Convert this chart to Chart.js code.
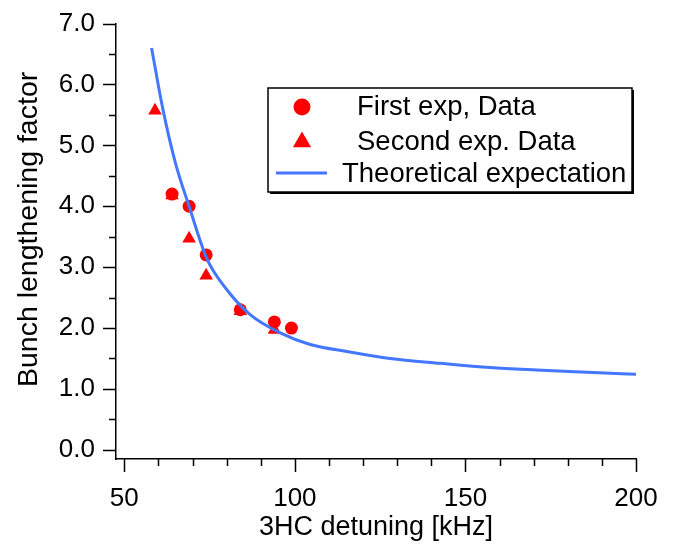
<!DOCTYPE html>
<html>
<head>
<meta charset="utf-8">
<script src="https://cdn.jsdelivr.net/npm/chart.js@4"></script>
<style>
  html, body { margin: 0; padding: 0; background: #fff; }
  #wrap { width: 684px; height: 548px; }
</style>
</head>
<body>
<div id="wrap"><canvas id="chart" width="684" height="548"></canvas></div>
<script>
// first experiment (circles)
const detuningFirst = [64, 69, 74, 84, 94, 99];
const factorFirst = [4.2, 4.0, 3.2, 2.3, 2.1, 2.0];

// second experiment (triangles)
const detuningSecond = [59, 64, 69, 74, 84, 94];
const factorSecond = [5.57, 4.18, 3.47, 2.86, 2.28, 1.97];

// theoretical curve
const theoryDetuning = [58.0, 61.3, 65.0, 69.0, 74.2, 80.2, 86.9, 95.7, 104.5, 115.7, 127.9, 142.6, 157.2, 170.9, 187.5, 200];
const theoryFactor = [6.60, 5.60, 4.71, 4.00, 3.14, 2.62, 2.22, 1.92, 1.73, 1.61, 1.50, 1.42, 1.35, 1.31, 1.27, 1.24];

// axis ticks
const yMajorTicks = [0, 1, 2, 3, 4, 5, 6, 7];
const yMinorTicks = [0.5, 1.5, 2.5, 3.5, 4.5, 5.5, 6.5];
const xMajorTicks = [50, 100, 150, 200];
const xMinorTicks = [60, 70, 80, 90, 110, 120, 130, 140, 160, 170, 180, 190];

const legendLabels = ['First exp, Data', 'Second exp. Data', 'Theoretical expectation'];

const RED = '#ff0000';
const BLUE = '#4477ff';
const FONT = '"Liberation Sans", Arial, Helvetica, sans-serif';

const toPoints = (xs, ys) => xs.map((x, i) => ({ x: x, y: ys[i] }));

// tick marks drawn outside the plot, major and minor
const tickMarks = {
    id: 'tickMarks',
    afterDraw(chart) {
        const ctx = chart.ctx;
        const xs = chart.scales.x;
        const ys = chart.scales.y;
        const axisX = chart.chartArea.left;
        const axisY = chart.chartArea.bottom;
        ctx.save();
        ctx.strokeStyle = '#000';
        ctx.lineWidth = 1.5;
        ctx.beginPath();
        yMajorTicks.forEach(v => {
            const p = Math.round(ys.getPixelForValue(v)) + 0.5;
            ctx.moveTo(axisX, p); ctx.lineTo(axisX - 13, p);
        });
        yMinorTicks.forEach(v => {
            const p = Math.round(ys.getPixelForValue(v)) + 0.5;
            ctx.moveTo(axisX, p); ctx.lineTo(axisX - 7, p);
        });
        xMajorTicks.forEach(v => {
            const p = Math.round(xs.getPixelForValue(v)) + 0.5;
            ctx.moveTo(p, axisY); ctx.lineTo(p, axisY + 13);
        });
        xMinorTicks.forEach(v => {
            const p = Math.round(xs.getPixelForValue(v)) + 0.5;
            ctx.moveTo(p, axisY); ctx.lineTo(p, axisY + 7);
        });
        ctx.stroke();
        ctx.restore();
    }
};

// boxed legend with drop shadow, upper right
const boxLegend = {
    id: 'boxLegend',
    afterDraw(chart) {
        const ctx = chart.ctx;
        const box = { x: 268, y: 88, w: 364, h: 104 };
        ctx.save();
        ctx.fillStyle = '#000';
        ctx.fillRect(box.x + 2, box.y + 2, box.w, box.h);
        ctx.fillStyle = '#fff';
        ctx.fillRect(box.x, box.y, box.w, box.h);
        ctx.strokeStyle = '#000';
        ctx.lineWidth = 1.5;
        ctx.strokeRect(box.x, box.y, box.w, box.h);

        ctx.fillStyle = RED;
        ctx.beginPath();
        ctx.arc(302, 107, 8.5, 0, Math.PI * 2);
        ctx.fill();

        const r = 10.5;
        ctx.beginPath();
        ctx.moveTo(302, 142 - r);
        ctx.lineTo(302 + r * 0.866, 142 + r / 2);
        ctx.lineTo(302 - r * 0.866, 142 + r / 2);
        ctx.closePath();
        ctx.fill();

        ctx.strokeStyle = BLUE;
        ctx.lineWidth = 3;
        ctx.beginPath();
        ctx.moveTo(276, 173);
        ctx.lineTo(327, 173);
        ctx.stroke();

        ctx.fillStyle = '#000';
        ctx.font = '27.5px ' + FONT;
        ctx.textBaseline = 'middle';
        ctx.fillText(legendLabels[0], 357, 107);
        ctx.fillText(legendLabels[1], 357, 142);
        ctx.fillText(legendLabels[2], 342, 174);
        ctx.restore();
    }
};

new Chart(document.getElementById('chart'), {
    type: 'scatter',
    data: {
        datasets: [
            {
                label: legendLabels[2],
                data: toPoints(theoryDetuning, theoryFactor),
                showLine: true,
                borderColor: BLUE,
                borderWidth: 3,
                pointRadius: 0,
                cubicInterpolationMode: 'monotone',
                order: 0
            },
            {
                label: legendLabels[0],
                data: toPoints(detuningFirst, factorFirst),
                pointStyle: 'circle',
                pointRadius: 6.5,
                backgroundColor: RED,
                borderColor: RED,
                borderWidth: 0,
                order: 1
            },
            {
                label: legendLabels[1],
                data: toPoints(detuningSecond, factorSecond),
                pointStyle: 'triangle',
                pointRadius: 7.8,
                backgroundColor: RED,
                borderColor: RED,
                borderWidth: 0,
                order: 2
            }
        ]
    },
    options: {
        responsive: false,
        animation: false,
        events: [],
        layout: { padding: { top: 19, right: 48, left: 0, bottom: 0 } },
        plugins: {
            legend: { display: false },
            tooltip: { enabled: false }
        },
        scales: {
            x: {
                type: 'linear',
                min: 47.57,
                max: 200,
                afterFit(scale) { scale.height = 89; },
                afterBuildTicks(scale) { scale.ticks = xMajorTicks.map(v => ({ value: v })); },
                grid: { display: true, drawOnChartArea: false, color: 'rgba(0,0,0,0)', drawTicks: true, tickLength: 13 },
                border: { display: true, color: '#000', width: 1.5 },
                ticks: {
                    color: '#000',
                    font: { family: FONT, size: 26 },
                    padding: 11,
                    maxRotation: 0,
                    autoSkip: false
                },
                title: {
                    display: true,
                    text: '3HC detuning [kHz]',
                    color: '#000',
                    font: { family: FONT, size: 27, lineHeight: 1.2 }
                }
            },
            y: {
                type: 'linear',
                min: -0.151,
                max: 7,
                afterFit(scale) { scale.width = 116; },
                afterBuildTicks(scale) { scale.ticks = yMajorTicks.map(v => ({ value: v })); },
                grid: { display: true, drawOnChartArea: false, color: 'rgba(0,0,0,0)', drawTicks: true, tickLength: 13 },
                border: { display: true, color: '#000', width: 1.5 },
                ticks: {
                    color: '#000',
                    font: { family: FONT, size: 26 },
                    padding: 8,
                    callback: v => v.toFixed(1)
                },
                title: {
                    display: true,
                    text: '   Bunch lengthening factor',
                    color: '#000',
                    font: { family: FONT, size: 28.5, lineHeight: 1.75 }
                }
            }
        }
    },
    plugins: [tickMarks, boxLegend]
});
</script>
</body>
</html>
